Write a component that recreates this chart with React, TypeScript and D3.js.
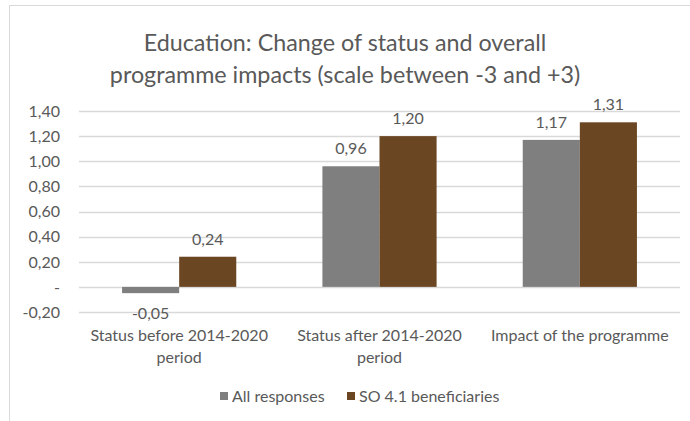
import React from "react";
import * as d3 from "d3";

const categories = [["Status before 2014-2020", "period"], ["Status after 2014-2020", "period"], ["Impact of the programme"]];
const seriesNames = ["All responses", "SO 4.1 beneficiaries"];
const allResponses = [-0.05, 0.96, 1.17];
const so41 = [0.24, 1.2, 1.31];
const yTicks = [-0.2, 0, 0.2, 0.4, 0.6, 0.8, 1.0, 1.2, 1.4];
const colors = ["#7f7f7f", "#6b4623"];

const W = 690, H = 421;
const font = "Lato, 'Open Sans', sans-serif";
const txt = "#595959";
const fs = 16;

function fmt(v: number) {
  if (v === 0) return "-";
  return v.toFixed(2).replace(".", ",");
}

export default function App() {
  const x = d3.scaleBand<number>().domain([0, 1, 2]).range([79, 680]).paddingInner(0.43).paddingOuter(0.215);
  const y = d3.scaleLinear().domain([-0.2, 1.4]).range([312, 111]);
  const series = [allResponses, so41];
  const bw = x.bandwidth() / 2;
  const legendX = [220, 347];
  return (
    <svg width={W} height={H} style={{ position: "absolute", left: 0, top: 0, background: "#fff" }} fontFamily={font}>
      <rect x={9.5} y={5.5} width={700} height={430} fill="#fff" stroke="#d9d9d9" />
      <text x={345} y={51} textAnchor="middle" fontSize={23.3} fill={txt}>Education: Change of status and overall</text>
      <text x={345} y={83} textAnchor="middle" fontSize={23.3} fill={txt}>programme impacts (scale between -3 and +3)</text>
      {yTicks.map((t) => (
        <g key={t}>
          <line x1={79} x2={680} y1={Math.round(y(t)) + 0.5} y2={Math.round(y(t)) + 0.5} stroke="#d9d9d9" strokeWidth={1.5} />
          <text x={60} y={y(t)} dy="0.36em" textAnchor="end" fontSize={fs} fill={txt}>{fmt(t)}</text>
        </g>
      ))}
      {series.map((s, si) =>
        s.map((v, i) => {
          const bx = (x(i) as number) + si * bw;
          const y0 = y(0), y1 = y(v);
          return (
            <g key={si + "-" + i}>
              <rect x={bx} y={Math.min(y0, y1)} width={bw} height={Math.abs(y1 - y0)} fill={colors[si]} />
              <text x={bx + bw / 2} y={v >= 0 ? y1 - 12 : y1 + 26} textAnchor="middle" fontSize={fs} fill={txt}>{fmt(v)}</text>
            </g>
          );
        })
      )}
      {categories.map((c, i) => (
        <text key={i} x={(x(i) as number) + x.bandwidth() / 2} y={341} textAnchor="middle" fontSize={fs} fill={txt}>
          {c.map((line, li) => (
            <tspan key={li} x={(x(i) as number) + x.bandwidth() / 2} dy={li === 0 ? 0 : 22}>{line}</tspan>
          ))}
        </text>
      ))}
      {seriesNames.map((n, i) => {
        const lx = legendX[i];
        return (
          <g key={n}>
            <rect x={lx} y={392} width={8} height={8} fill={colors[i]} />
            <text x={lx + 12} y={396} dy="0.36em" fontSize={fs} fill={txt}>{n}</text>
          </g>
        );
      })}
    </svg>
  );
}
